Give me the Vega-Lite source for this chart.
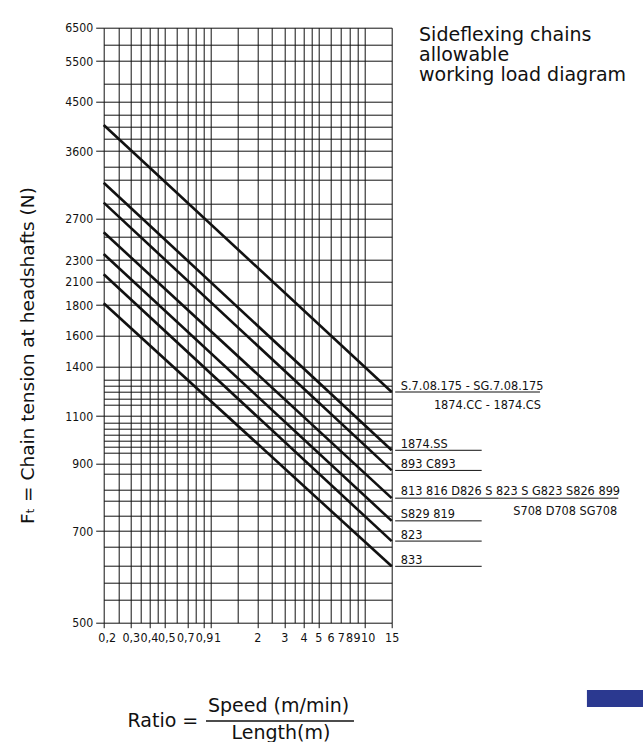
{
  "$schema": "https://vega.github.io/schema/vega-lite/v6.json",
  "width": 288,
  "height": 595,
  "autosize": {"type": "none"},
  "padding": {"left": 103.7, "top": 27.7, "right": 251.3, "bottom": 119.3},
  "background": "white",
  "config": {"view": {"stroke": null}},
  "datasets": {
    "lines": [
      {"s": "a", "x": 0.2, "y": 4075}, {"s": "a", "x": 15, "y": 1246},
      {"s": "b", "x": 0.2, "y": 3176}, {"s": "b", "x": 15, "y": 955},
      {"s": "c", "x": 0.2, "y": 2909}, {"s": "c", "x": 15, "y": 879},
      {"s": "d", "x": 0.2, "y": 2566}, {"s": "d", "x": 15, "y": 797},
      {"s": "e", "x": 0.2, "y": 2358}, {"s": "e", "x": 15, "y": 730},
      {"s": "f", "x": 0.2, "y": 2168}, {"s": "f", "x": 15, "y": 678},
      {"s": "g", "x": 0.2, "y": 1822}, {"s": "g", "x": 15, "y": 623}
    ],
    "underlines": [
      {"x": 15.8, "x2": 138.5, "y": 1246},
      {"x": 15.8, "x2": 57.8, "y": 955},
      {"x": 15.8, "x2": 57.8, "y": 879},
      {"x": 15.8, "x2": 448, "y": 797},
      {"x": 15.8, "x2": 57.8, "y": 730},
      {"x": 15.8, "x2": 57.8, "y": 678},
      {"x": 15.8, "x2": 57.8, "y": 623}
    ],
    "labelsLeft": [
      {"x": 17.2, "y": 1261, "t": "S.7.08.175 - SG.7.08.175"},
      {"x": 17.2, "y": 966, "t": "1874.SS"},
      {"x": 17.2, "y": 886, "t": "893 C893"},
      {"x": 17.2, "y": 805, "t": "813 816 D826 S 823 S G823 S826 899"},
      {"x": 17.2, "y": 737, "t": "S829 819"},
      {"x": 17.2, "y": 683, "t": "823"},
      {"x": 17.2, "y": 628, "t": "833"}
    ],
    "labelsRight": [
      {"x": 140.6, "y": 1141, "t": "1874.CC - 1874.CS"},
      {"x": 441, "y": 747, "t": "S708 D708 SG708"}
    ],
    "heading": [
      {"x": 22.6, "y": 6110, "t": "Sideflexing chains"},
      {"x": 22.6, "y": 5509, "t": "allowable"},
      {"x": 22.6, "y": 5016, "t": "working load diagram"}
    ],
    "formula": [
      {"x": 0.486, "y": 272, "t": "Ratio ="},
      {"x": 2.75, "y": 305, "t": "Speed (m/min)"},
      {"x": 2.85, "y": 246, "t": "Length(m)"}
    ],
    "fractionBar": [{"x": 0.927, "x2": 8.52, "y": 285.6}],
    "badge": [{"x": 280, "x2": 1000, "y": 353, "y2": 316}]
  },
  "encoding": {
    "x": {
      "field": "x",
      "type": "quantitative",
      "scale": {"type": "log", "domain": [0.2, 15], "nice": false, "zero": false},
      "axis": {
        "values": [0.2, 0.25, 0.3, 0.35, 0.4, 0.45, 0.5, 0.6, 0.7, 0.8, 0.9, 1, 1.5, 2, 2.5, 3, 3.5, 4, 4.5, 5, 6, 7, 8, 9, 10, 15],
        "labelExpr": "indexof([0.2,0.3,0.4,0.5,0.7,0.9,1,2,3,4,5,6,7,8,9,10,15], datum.value) >= 0 ? replace(toString(datum.value), '.', ',') : ''",
        "labelOverlap": false,
        "labelFlush": false,
        "labelFont": "DejaVu Sans Condensed",
        "labelFontSize": 12.4,
        "labelColor": "#111",
        "labelPadding": 4,
        "labelOffset": {"condition": [{"test": "datum.value == 0.2", "value": 3}, {"test": "datum.value == 0.4", "value": -1}, {"test": "datum.value == 0.5", "value": 1.5}, {"test": "datum.value == 0.7", "value": -2}, {"test": "datum.value == 1", "value": 6}, {"test": "datum.value == 8", "value": -0.6}, {"test": "datum.value == 9", "value": -1}, {"test": "datum.value == 10", "value": 3}], "value": 0},
        "tickSize": 5,
        "tickColor": "#111",
        "tickOpacity": {"condition": {"test": "indexof([0.2,0.3,0.4,0.5,0.7,0.9,1,2,3,4,5,10,15], datum.value) >= 0", "value": 1}, "value": 0},
        "domain": false,
        "grid": true,
        "gridColor": "#111",
        "gridWidth": 1,
        "gridOpacity": 1,
        "title": null
      }
    },
    "y": {
      "field": "y",
      "type": "quantitative",
      "scale": {
        "type": "linear",
        "domain": [500, 700, 900, 1100, 1400, 1600, 1800, 2100, 2300, 2700, 3600, 4500, 5500, 6500],
        "range": [595, 503.3, 435.6, 388.3, 339, 308, 277.3, 254, 232.3, 190.6, 123.3, 74, 33.3, 0],
        "nice": false,
        "zero": false
      },
      "axis": {
        "values": [6500, 6000, 5500, 4950, 4500, 4270, 4044, 3819, 3600, 3390, 3212, 2900, 2700, 2523, 2300, 2100, 1800, 1600, 1400, 1323, 1284, 1248, 1208, 1171, 1100, 1073, 1048, 1020, 996, 970, 946, 900, 870, 821, 789, 745, 700, 666, 624, 587, 550, 500],
        "labelExpr": "indexof([6500,5500,4500,3600,2700,2300,2100,1800,1600,1400,1100,900,700,500], datum.value) >= 0 ? format(datum.value, 'd') : ''",
        "labelOverlap": false,
        "labelFlush": false,
        "labelFont": "DejaVu Sans Condensed",
        "labelFontSize": 12.2,
        "labelColor": "#111",
        "labelPadding": 3,
        "tickSize": 8,
        "tickColor": "#111",
        "tickOpacity": {"condition": {"test": "indexof([6500,5500,4500,3600,2700,2300,2100,1800,1600,1400,1100,900,700,500], datum.value) >= 0", "value": 1}, "value": 0},
        "domain": false,
        "grid": true,
        "gridColor": "#111",
        "gridWidth": 1,
        "gridOpacity": 1,
        "title": "Fₜ = Chain tension at headshafts (N)",
        "titleFont": "DejaVu Sans",
        "titleFontSize": 18.5,
        "titleFontWeight": "normal",
        "titleColor": "#111",
        "titleAngle": 270,
        "titleAlign": "center",
        "titleBaseline": "alphabetic",
        "titleX": -70.4,
        "titleY": 327.3
      }
    }
  },
  "layer": [
    {
      "data": {"name": "lines"},
      "mark": {"type": "line", "color": "#111", "strokeWidth": 2.6},
      "encoding": {"detail": {"field": "s", "type": "nominal"}}
    },
    {
      "data": {"name": "underlines"},
      "mark": {"type": "rule", "color": "#111", "strokeWidth": 1},
      "encoding": {"x2": {"field": "x2"}}
    },
    {
      "data": {"name": "labelsLeft"},
      "mark": {"type": "text", "align": "left", "baseline": "alphabetic", "font": "DejaVu Sans Condensed", "fontSize": 12.6, "color": "#111"},
      "encoding": {"text": {"field": "t", "type": "nominal"}}
    },
    {
      "data": {"name": "labelsRight"},
      "mark": {"type": "text", "align": "right", "baseline": "alphabetic", "font": "DejaVu Sans Condensed", "fontSize": 12.6, "color": "#111"},
      "encoding": {"text": {"field": "t", "type": "nominal"}}
    },
    {
      "data": {"name": "heading"},
      "mark": {"type": "text", "align": "left", "baseline": "alphabetic", "font": "DejaVu Sans", "fontSize": 19, "color": "#111"},
      "encoding": {"text": {"field": "t", "type": "nominal"}}
    },
    {
      "data": {"name": "formula"},
      "mark": {"type": "text", "align": "center", "baseline": "alphabetic", "font": "DejaVu Sans", "fontSize": 19, "color": "#111"},
      "encoding": {"text": {"field": "t", "type": "nominal"}}
    },
    {
      "data": {"name": "fractionBar"},
      "mark": {"type": "rule", "color": "#111", "strokeWidth": 1.4},
      "encoding": {"x2": {"field": "x2"}}
    },
    {
      "data": {"name": "badge"},
      "mark": {"type": "rect", "color": "#2b3990"},
      "encoding": {"x2": {"field": "x2"}, "y2": {"field": "y2"}}
    }
  ]
}
